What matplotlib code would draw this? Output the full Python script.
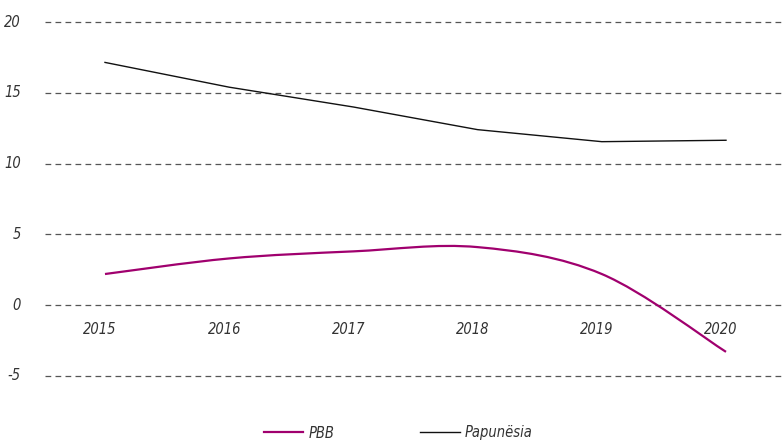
import numpy as np
import matplotlib
matplotlib.use("Agg")
import matplotlib.pyplot as plt
from matplotlib import font_manager
from matplotlib.path import Path
from matplotlib.patches import PathPatch
from matplotlib.lines import Line2D

years = [2015, 2016, 2017, 2018, 2019, 2020]
pbb = [2.2, 3.3, 3.8, 4.1, 2.2, -3.3]
papunesia = [17.15, 15.4, 14.0, 12.4, 11.55, 11.65]
yticks = [-5, 0, 5, 10, 15, 20]
labels = ["PBB", "Papunësia"]

pbb_color = "#a0006e"
line_color = "#111111"
txt_color = "#333333"

# pick a narrow face if one is around, otherwise plain sans
fonts = {(f.name, f.stretch) for f in font_manager.fontManager.ttflist}
if any(n == "Liberation Sans Narrow" for n, s in fonts):
    family, stretch, fsize = "Liberation Sans Narrow", "normal", 11.5
elif ("DejaVu Sans", "condensed") in fonts or ("DejaVu Sans", 600) in fonts:
    family, stretch, fsize = "DejaVu Sans", "condensed", 10.5
else:
    family, stretch, fsize = "DejaVu Sans", "normal", 10

plt.rcParams["font.family"] = [family, "DejaVu Sans"]
plt.rcParams["font.style"] = "italic"
plt.rcParams["font.stretch"] = stretch


def smooth_path(x, y, t=0.5):
    # cubic bezier segments with catmull-rom tangents
    x = np.asarray(x, float)
    y = np.asarray(y, float)
    n = len(x)
    verts = [(x[0], y[0])]
    codes = [Path.MOVETO]
    for i in range(n - 1):
        a, b = max(i - 1, 0), min(i + 2, n - 1)
        c1 = (x[i] + (x[i + 1] - x[a]) * t / 3, y[i] + (y[i + 1] - y[a]) * t / 3)
        c2 = (x[i + 1] - (x[b] - x[i]) * t / 3, y[i + 1] - (y[b] - y[i]) * t / 3)
        verts += [c1, c2, (x[i + 1], y[i + 1])]
        codes += [Path.CURVE4] * 3
    return Path(verts, codes)


fig = plt.figure(figsize=(7.84, 4.43), dpi=100)
ax = fig.add_axes([45 / 784, 60 / 443, 739 / 784, 368 / 443])
ax.set_xlim(2014.517, 2020.467)
ax.set_ylim(-5.5, 20.5)
ax.axis("off")

for v in yticks:
    ax.axhline(v, color="#555555", lw=0.9, ls=(0, (4.6, 3.4)), zorder=1)
    ax.text(-24 / 739, v, str(v), transform=ax.get_yaxis_transform(),
            ha="right", va="center", fontsize=fsize, color=txt_color)

for yr in years:
    ax.text(yr - 0.04, -1.7, str(yr), ha="center", va="center",
            fontsize=fsize, color=txt_color)

ax.add_patch(PathPatch(smooth_path(years, pbb), fill=False,
                       edgecolor=pbb_color, lw=1.6, zorder=3))
ax.plot(years, papunesia, color=line_color, lw=1.0, zorder=3)

handles = [Line2D([], [], color=pbb_color, lw=1.6),
           Line2D([], [], color=line_color, lw=1.0)]
fig.legend(handles, labels, loc="center",
           bbox_to_anchor=(0.508, 1 - 433 / 443), ncol=2, frameon=False,
           handlelength=2.7, columnspacing=5.9, handletextpad=0.35,
           fontsize=fsize, labelcolor=txt_color)

fig.savefig("out.png", dpi=100)
